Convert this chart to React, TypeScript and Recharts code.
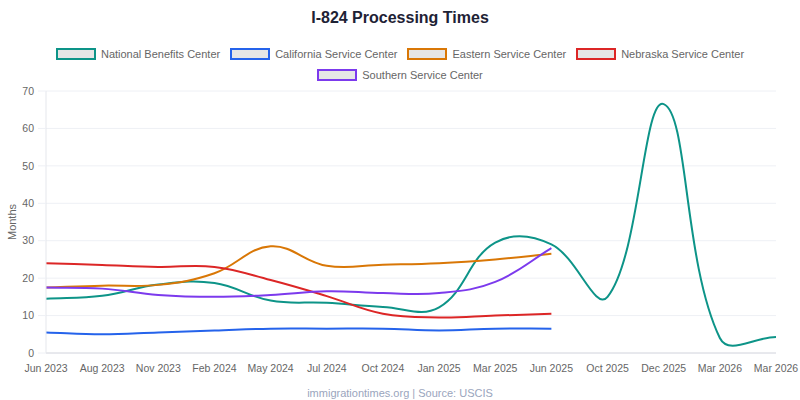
import { CartesianGrid, Label, Line, LineChart, XAxis, YAxis } from "recharts";

const months = [
  "Jun 2023", "Aug 2023", "Nov 2023", "Feb 2024", "May 2024", "Jul 2024", "Oct 2024",
  "Jan 2025", "Mar 2025", "Jun 2025", "Oct 2025", "Dec 2025", "Mar 2026", "Mar 2026",
];

const national = [14.5, 15.3, 18.3, 18.7, 14, 13.4, 12.3, 12.2, 29.5, 29, 15, 66.5, 4, 4.3];
const california = [5.5, 5, 5.5, 6, 6.5, 6.5, 6.5, 6, 6.5, 6.5];
const eastern = [17.5, 18, 18.2, 21.3, 28.5, 23.3, 23.6, 24, 25, 26.5];
const nebraska = [24, 23.5, 23, 23, 19.5, 15.2, 10.5, 9.5, 10, 10.5];
const southern = [17.5, 17.2, 15.5, 15, 15.5, 16.5, 16, 16, 19, 28];

const yTicks = [0, 10, 20, 30, 40, 50, 60, 70];

const series = [
  { key: "nbc", name: "National Benefits Center", values: national, color: "#0d9488" },
  { key: "csc", name: "California Service Center", values: california, color: "#2563eb" },
  { key: "esc", name: "Eastern Service Center", values: eastern, color: "#d97706" },
  { key: "nsc", name: "Nebraska Service Center", values: nebraska, color: "#dc2626" },
  { key: "ssc", name: "Southern Service Center", values: southern, color: "#7c3aed" },
];

const rows = months.map((m, i) => {
  const row: Record<string, number | null> = { idx: i };
  series.forEach((s) => {
    row[s.key] = s.values[i] ?? null;
  });
  return row;
});

const font = "'Liberation Sans', Arial, Helvetica, sans-serif";

// tension-0.4 spline, same control points as the original chart's smoothing
function tensionCurve(context: any) {
  let pts: [number, number][] = [];
  const t = 0.4;
  return {
    areaStart() {},
    areaEnd() {},
    lineStart() {
      pts = [];
    },
    point(x: number, y: number) {
      pts.push([+x, +y]);
    },
    lineEnd() {
      const n = pts.length;
      if (!n) return;
      context.moveTo(pts[0][0], pts[0][1]);
      if (n === 1) return;
      const cps = pts.map((cur, i) => {
        const prev = pts[i - 1] || cur;
        const next = pts[i + 1] || cur;
        const d01 = Math.hypot(cur[0] - prev[0], cur[1] - prev[1]);
        const d12 = Math.hypot(next[0] - cur[0], next[1] - cur[1]);
        let s01 = d01 / (d01 + d12);
        let s12 = d12 / (d01 + d12);
        if (isNaN(s01)) s01 = 0;
        if (isNaN(s12)) s12 = 0;
        const fa = t * s01;
        const fb = t * s12;
        return {
          px: cur[0] - fa * (next[0] - prev[0]),
          py: cur[1] - fa * (next[1] - prev[1]),
          nx: cur[0] + fb * (next[0] - prev[0]),
          ny: cur[1] + fb * (next[1] - prev[1]),
        };
      });
      for (let i = 1; i < n; i++) {
        context.bezierCurveTo(cps[i - 1].nx, cps[i - 1].ny, cps[i].px, cps[i].py, pts[i][0], pts[i][1]);
      }
    },
  };
}

export default function App() {
  return (
    <div style={{ position: "absolute", left: 0, top: 0, width: 800, height: 400, background: "#fff", fontFamily: font }}>
      <div
        style={{
          position: "absolute", top: 9, left: 0, width: 800, textAlign: "center",
          fontSize: 16, fontWeight: 700, color: "#1e2235",
        }}
      >
        I-824 Processing Times
      </div>

      <div
        style={{
          position: "absolute", top: 47, left: 20, width: 760, display: "flex", flexWrap: "wrap",
          justifyContent: "center", rowGap: 7,
        }}
      >
        {series.map((s) => (
          <div key={s.key} style={{ display: "flex", alignItems: "center", margin: "0 5px", height: 14 }}>
            <span
              style={{
                width: 36, height: 8, border: `2px solid ${s.color}`, background: "#e6e6e6",
                display: "inline-block", marginRight: 5,
              }}
            />
            <span style={{ fontSize: 11, color: "#666" }}>{s.name}</span>
          </div>
        ))}
      </div>

      <LineChart
        width={800}
        height={400}
        data={rows}
        margin={{ top: 91, right: 24, left: 0, bottom: 17 }}
        style={{ position: "absolute", left: 0, top: 0 }}
      >
        <CartesianGrid stroke="#eef0f5" vertical={false} />
        <XAxis
          dataKey="idx"
          type="category"
          interval={0}
          tickFormatter={(i) => months[i]}
          tick={{ fill: "#666", fontSize: 10.5, fontFamily: font }}
          tickLine={false}
          tickMargin={6}
          axisLine={{ stroke: "#d8dae0" }}
        />
        <YAxis
          width={46}
          domain={[0, 70]}
          ticks={yTicks}
          tick={{ fill: "#666", fontSize: 10.5, fontFamily: font }}
          tickLine={{ stroke: "#eef0f5" }}
          tickSize={8}
          tickMargin={4}
          axisLine={{ stroke: "#e5e7ec" }}
        >
          <Label
            value="Months"
            angle={-90}
            position="insideLeft"
            offset={12}
            style={{ fill: "#666", fontSize: 11, fontFamily: font, textAnchor: "middle" }}
          />
        </YAxis>
        {series.map((s) => (
          <Line
            key={s.key}
            dataKey={s.key}
            name={s.name}
            type={tensionCurve as any}
            stroke={s.color}
            strokeWidth={2}
            dot={false}
            activeDot={false}
            isAnimationActive={false}
          />
        ))}
      </LineChart>

      <div
        style={{
          position: "absolute", top: 387, left: 0, width: 800, textAlign: "center",
          fontSize: 11, color: "#9aa5bd",
        }}
      >
        immigrationtimes.org | Source: USCIS
      </div>
    </div>
  );
}
